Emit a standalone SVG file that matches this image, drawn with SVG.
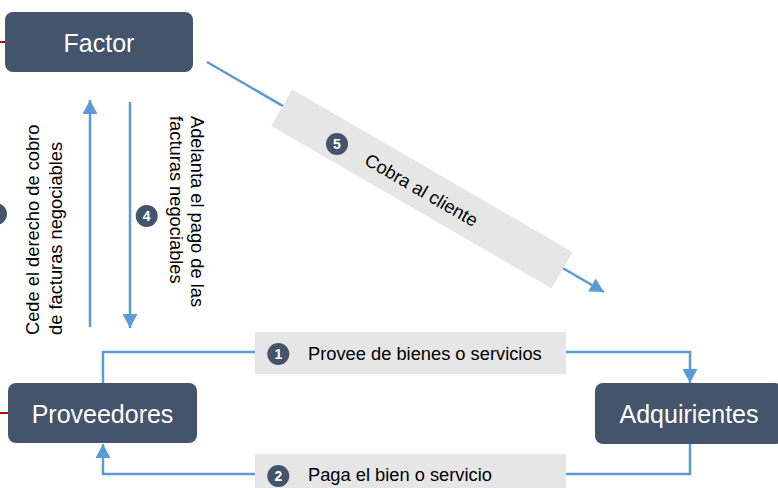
<svg xmlns="http://www.w3.org/2000/svg" width="778" height="488" viewBox="0 0 778 488">
<style>
.node{fill:#44546a;}
.ntext{font-family:"Liberation Sans",Arial,sans-serif;font-size:25px;fill:#ffffff;text-anchor:middle;}
.lbl{font-family:"Liberation Sans",Arial,sans-serif;font-size:18.3px;fill:#000000;}
.lblbg{fill:#e7e6e6;}
.conn{fill:none;stroke:#5b9bd5;stroke-width:2.5;}
.red{stroke:#c00000;stroke-width:2;fill:none;}
.num{fill:#44546a;}
.numt{font-family:"Liberation Sans",Arial,sans-serif;font-size:14px;font-weight:bold;fill:#ffffff;text-anchor:middle;}
</style>
<defs>
<marker id="arr" markerUnits="userSpaceOnUse" markerWidth="15" markerHeight="15" refX="14" refY="7.5" orient="auto">
<path d="M0,0 L14,7.5 L0,15 z" fill="#5b9bd5"/>
</marker>
</defs>
<rect width="778" height="488" fill="#ffffff"/>
<g id="connectors">
<line class="red" x1="0" y1="42" x2="5" y2="42"/>
<line class="red" x1="0" y1="413" x2="8" y2="413"/>
<line class="conn" x1="90" y1="327" x2="90" y2="100" marker-end="url(#arr)"/>
<line class="conn" x1="130" y1="102" x2="130" y2="328" marker-end="url(#arr)"/>
<line class="conn" x1="207" y1="62" x2="604" y2="292" marker-end="url(#arr)"/>
<polyline class="conn" points="103,383 103,352 690,352 690,383" marker-end="url(#arr)"/>
<polyline class="conn" points="690,444 690,474 103,474 103,444" marker-end="url(#arr)"/>
</g>
<g id="label-3">
<circle class="num" cx="-4" cy="214" r="11"/>
<text class="lbl" transform="translate(38.5,335) rotate(-90)">Cede el derecho de cobro</text>
<text class="lbl" transform="translate(62,335) rotate(-90)">de facturas negociables</text>
</g>
<g id="label-4">
<circle class="num" cx="146.7" cy="216" r="11"/>
<text class="numt" x="146.7" y="221">4</text>
<text class="lbl" transform="translate(191,116) rotate(90)">Adelanta el pago de las</text>
<text class="lbl" transform="translate(170,116) rotate(90)">facturas negociables</text>
</g>
<g id="label-5">
<rect class="lblbg" transform="translate(422,189) rotate(30.1)" x="-162" y="-21" width="324" height="42"/>
<circle class="num" cx="337" cy="144" r="11"/>
<text class="numt" x="337" y="149">5</text>
<text class="lbl" transform="translate(422,189) rotate(30.1)" x="0" y="7.5" text-anchor="middle">Cobra al cliente</text>
</g>
<g id="label-1">
<rect class="lblbg" x="255" y="332" width="311" height="42"/>
<circle class="num" cx="278.3" cy="354" r="11"/>
<text class="numt" x="278.3" y="359">1</text>
<text class="lbl" x="308" y="360">Provee de bienes o servicios</text>
</g>
<g id="label-2">
<rect class="lblbg" x="255" y="454" width="311" height="42"/>
<circle class="num" cx="278.3" cy="476" r="11"/>
<text class="numt" x="278.3" y="481">2</text>
<text class="lbl" x="308" y="481">Paga el bien o servicio</text>
</g>
<g id="factor">
<rect class="node" x="5" y="12" width="188" height="60" rx="8"/>
<text class="ntext" x="99" y="51.5">Factor</text>
</g>
<g id="proveedores">
<rect class="node" x="8" y="383" width="189" height="60" rx="8"/>
<text class="ntext" x="102.5" y="422.5">Proveedores</text>
</g>
<g id="adquirientes">
<rect class="node" x="595" y="383" width="188" height="61" rx="8"/>
<text class="ntext" x="689" y="423">Adquirientes</text>
</g>
</svg>
